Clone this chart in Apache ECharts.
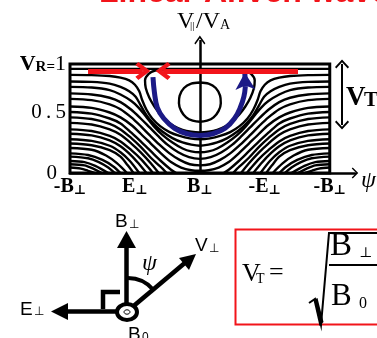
<!DOCTYPE html>
<html><head><meta charset="utf-8">
<script src="https://cdn.jsdelivr.net/npm/echarts/dist/echarts.min.js"></script>
<style>html,body{margin:0;padding:0;background:#fff}#c{width:377px;height:338px}</style>
</head><body><div id="c"></div><script>
// ---------- data (psi in degrees, v = V||/VA) ----------
const psiTicks = [-180, -90, 0, 90, 180];
const psiTickLabels = ['-B⊥', 'E⊥', 'B⊥', '-E⊥', '-B⊥'];
const vTicks = [0, 0.5, 1];
const vTickLabels = ['0', '0.5', 'VR=1'];

const topLine = [[-180, 0.955], [180, 0.955]];
// left halves (psi from -180 to 0); mirrored to the right half
const throughLines = [
  [[-180,.90],[-150,.898],[-125,.89],[-110,.875],[-98,.85],[-90,.81],[-84,.75],[-80,.67],[-74,.58],[-66,.50],[-55,.43],[-42,.375],[-28,.34],[-14,.318],[0,.31]],
  [[-180,.84],[-150,.836],[-125,.82],[-110,.79],[-98,.75],[-89,.70],[-82,.62],[-74,.53],[-64,.45],[-52,.38],[-38,.32],[-24,.28],[-12,.26],[0,.25]],
  [[-180,.79],[-150,.784],[-125,.76],[-110,.72],[-95,.66],[-85,.60],[-75,.52],[-64,.43],[-52,.35],[-38,.28],[-24,.225],[-12,.198],[0,.19]],
  [[-180,.73],[-150,.72],[-125,.69],[-110,.65],[-95,.58],[-82,.50],[-70,.42],[-58,.34],[-45,.26],[-30,.19],[-15,.145],[0,.13]],
  [[-180,.68],[-150,.668],[-125,.63],[-110,.585],[-95,.51],[-82,.43],[-70,.35],[-56,.26],[-42,.18],[-28,.12],[-14,.08],[0,.07]],
  [[-180,.61],[-150,.597],[-125,.555],[-110,.51],[-95,.44],[-82,.36],[-68,.27],[-54,.18],[-40,.10],[-26,.05],[-12,.025],[0,.02]]
];
const edgeLines = [
  [[-180,.56],[-150,.545],[-125,.50],[-110,.455],[-95,.37],[-82,.29],[-68,.20],[-54,.11],[-40,.03],[-33,0]],
  [[-180,.51],[-150,.495],[-125,.45],[-110,.40],[-95,.32],[-82,.24],[-68,.14],[-55,.06],[-46,0]],
  [[-180,.46],[-150,.445],[-125,.40],[-110,.35],[-95,.27],[-82,.19],[-68,.09],[-57,0]],
  [[-180,.40],[-150,.385],[-125,.34],[-110,.29],[-95,.21],[-82,.13],[-70,.04],[-65,0]],
  [[-180,.36],[-150,.345],[-125,.30],[-110,.245],[-95,.16],[-84,.08],[-74,0]],
  [[-180,.31],[-150,.295],[-125,.25],[-110,.19],[-97,.11],[-84,0]],
  [[-180,.27],[-150,.255],[-125,.21],[-110,.15],[-100,.07],[-92,0]],
  [[-180,.23],[-150,.213],[-130,.16],[-115,.09],[-101,0]],
  [[-180,.18],[-155,.165],[-135,.12],[-120,.06],[-110,0]],
  [[-180,.15],[-155,.135],[-140,.10],[-127,.05],[-118,0]],
  [[-180,.11],[-160,.10],[-145,.065],[-127,0]],
  [[-180,.08],[-160,.07],[-148,.04],[-136,0]],
  [[-180,.05],[-165,.04],[-155,.02],[-146,0]]
];
const separatrixHalf = [[0,.945],[-30,.945],[-50,.945],[-62,.94],[-71,.91],[-76,.85],[-75,.78],[-70,.69],[-63,.61],[-55,.54],[-46,.48],[-36,.43],[-24,.395],[-12,.378],[0,.372]];
const islandHalf = [[0,.83],[-12,.82],[-22,.78],[-28,.71],[-29,.64],[-26,.57],[-19,.51],[-10,.48],[0,.47]];
const blueArc = [[-65,.88],[-63,.74],[-59,.6],[-50,.5],[-35,.41],[-18,.36],[0,.345],[18,.36],[35,.41],[48,.5],[56,.6],[61,.7],[63,.79]];
const blueHead = [[63,.79],[62.3,.92]];
const redArrowRight = [[-155,.936],[-79,.936]];
const redArrowLeft = [[136,.936],[-51,.936]];
const vtArrow = [[197,1],[197,.44]];

// ---------- build ----------
const SERIF = '"Liberation Serif", "DejaVu Serif", serif';
const SANS = '"Liberation Sans", Arial, sans-serif';
const chev = 'path://M10,0 L20,12 L16.5,15 L10,7 L3.5,15 L0,12 Z';
const chevThin = 'path://M10,0 L20,10 L18.2,11.8 L10,3.6 L1.8,11.8 L0,10 Z';
const mirror = pts => pts.map(p => [-p[0], p[1]]);
const full = h => h.concat(mirror(h).reverse().slice(1));
function contour(pts) {
  return {type: 'line', data: pts, symbol: 'none', smooth: 0.3, silent: true, z: 3,
          lineStyle: {color: '#000', width: 2.4}};
}
function arrowSeries(pair, color, width, symbols, sizes, z) {
  return {type: 'line', data: [], silent: true, z: z,
    markLine: {silent: true, animation: false, symbol: symbols, symbolSize: sizes,
      label: {show: false}, lineStyle: {color: color, width: width, type: 'solid'},
      emphasis: {disabled: true},
      data: [[{coord: pair[0]}, {coord: pair[1]}]]}};
}
const series = [];
series.push(Object.assign(contour(topLine), {
  markArea: {silent: true, label: {show: false},
    itemStyle: {color: 'rgba(0,0,0,0)', borderColor: '#000', borderWidth: 3},
    data: [[{coord: [-180, 0]}, {coord: [180, 1]}]]}
}));
throughLines.forEach(h => series.push(contour(full(h))));
edgeLines.forEach(h => { series.push(contour(h)); series.push(contour(mirror(h))); });
series.push(contour(full(separatrixHalf)));
series.push(contour(full(islandHalf)));
series.push(arrowSeries([[0, 0], [0, 1.22]], '#000', 2.5, ['none', chevThin], [11, 9], 4));
series.push({type: 'line', data: blueArc, symbol: 'none', smooth: 0.4, silent: true, z: 6,
  lineStyle: {color: '#1c1a86', width: 5}});
series.push(arrowSeries(blueHead, '#1c1a86', 5, ['none', 'arrow'], [15, 17], 6));
series.push(arrowSeries(redArrowRight, '#f2141a', 5, ['none', chev], [18, 15], 7));
series.push(arrowSeries(redArrowLeft, '#f2141a', 5, ['none', chev], [18, 15], 7));
series.push(arrowSeries(vtArrow, '#000', 2, [chevThin, chevThin], [14, 9], 5));

function txt(x, y, text, font, color, z) {
  return {type: 'text', x: x, y: y, z: z || 10,
    style: {text: text, font: font, fill: color || '#000', textAlign: 'left', textVerticalAlign: 'middle'}};
}
const graphic = [
  {type: 'text', x: 99, y: 9, z: 10, style: {text: 'Linear Alfvén wave', font: 'bold 32px ' + SANS, fill: '#f2141a', textAlign: 'left', textVerticalAlign: 'bottom'}},
  txt(177, 22, 'V', '24px ' + SERIF), txt(190, 26, '||', '11px ' + SERIF), txt(196, 22, '/V', '24px ' + SERIF), txt(220, 25, 'A', '14px ' + SERIF),
  txt(361, 181, 'ψ', 'italic 24px ' + SERIF),
  txt(346, 98, 'V', 'bold 27px ' + SERIF), txt(364, 101, 'T', 'bold 21px ' + SERIF),
  // vector diagram
  {type: 'line', shape: {x1: 126.5, y1: 312, x2: 126.5, y2: 246}, style: {stroke: '#000', lineWidth: 4.5}},
  {type: 'polygon', shape: {points: [[126.5, 231], [117, 248], [136, 248]]}, style: {fill: '#000'}},
  {type: 'line', shape: {x1: 126, y1: 311.5, x2: 66, y2: 311.5}, style: {stroke: '#000', lineWidth: 4.5}},
  {type: 'polygon', shape: {points: [[51, 311.5], [68, 303], [68, 320]]}, style: {fill: '#000'}},
  {type: 'line', shape: {x1: 130, y1: 309, x2: 186, y2: 262}, style: {stroke: '#000', lineWidth: 4.5}},
  {type: 'polygon', shape: {points: [[196, 254], [189, 270], [179, 258]]}, style: {fill: '#000'}},
  {type: 'polyline', shape: {points: [[103, 309], [103, 292], [120, 292]]}, style: {stroke: '#000', lineWidth: 4.5, fill: null}},
  {type: 'arc', shape: {cx: 128, cy: 311, r: 33, startAngle: -Math.PI / 2, endAngle: -0.70, clockwise: true}, style: {stroke: '#000', lineWidth: 4, fill: null}},
  {type: 'ellipse', shape: {cx: 127, cy: 312, rx: 10, ry: 8}, style: {fill: '#fff', stroke: '#000', lineWidth: 4}, z: 11},
  {type: 'ellipse', shape: {cx: 127, cy: 312, rx: 3, ry: 2.2}, style: {fill: '#fff', stroke: '#000', lineWidth: 1}, z: 12},
  txt(115, 222, 'B', '19px ' + SANS), txt(129, 225, '⊥', '12px "DejaVu Sans"'),
  txt(20, 310, 'E', '19px ' + SANS), txt(34, 312, '⊥', '12px "DejaVu Sans"'),
  txt(195, 246, 'V', '19px ' + SANS), txt(209, 249, '⊥', '12px "DejaVu Sans"'),
  txt(128, 335, 'B', '19px ' + SANS), txt(142, 338, '0', '12px ' + SANS),
  txt(142, 264, 'ψ', 'italic 24px ' + SERIF),
  // formula box
  {type: 'rect', shape: {x: 235.5, y: 229.5, width: 160, height: 95}, style: {fill: null, stroke: '#f2141a', lineWidth: 2}},
  txt(242, 274, 'V', '26px ' + SERIF), txt(256, 279, 'T', '14px ' + SERIF),
  txt(269, 273, '=', '26px ' + SERIF),
  {type: 'polyline', shape: {points: [[309, 303], [315, 299], [321, 325], [329, 233], [380, 233]]}, style: {stroke: '#000', lineWidth: 2, fill: null}},
  {type: 'polygon', shape: {points: [[313.5, 300], [317.5, 298], [323.5, 322], [319.5, 326]]}, style: {fill: '#000'}},
  txt(330, 246, 'B', '33px ' + SERIF), txt(359, 253, '⊥', '14px "DejaVu Serif"'),
  {type: 'line', shape: {x1: 329, y1: 265, x2: 380, y2: 265}, style: {stroke: '#000', lineWidth: 2}},
  txt(331, 297, 'B', '31px ' + SERIF), txt(359, 304, '0', '16px ' + SERIF)
];

const option = {
  animation: false,
  grid: {left: 70, right: 22, top: 40, bottom: 165},
  xAxis: {type: 'value', min: -180, max: 215, interval: 90,
    axisLine: {show: true, onZero: false, symbol: ['none', chevThin], symbolSize: [11, 8], lineStyle: {color: '#000', width: 2.5}},
    axisTick: {show: false}, splitLine: {show: false},
    axisLabel: {margin: 4, showMaxLabel: false, showMinLabel: true,
      formatter: function (val) {
        const i = psiTicks.indexOf(val);
        if (i < 0) return '';
        const s = psiTickLabels[i];
        return '{b|' + s.slice(0, -1) + '}{p|' + s.slice(-1) + '}';
      },
      rich: {b: {fontFamily: SERIF, fontWeight: 'bold', fontSize: 20, color: '#000', verticalAlign: 'bottom'},
             p: {fontFamily: '"DejaVu Serif"', fontWeight: 'bold', fontSize: 13, color: '#000', verticalAlign: 'bottom'}}}},
  yAxis: {type: 'value', min: 0, max: 1.22, interval: 0.5,
    axisLine: {show: false}, axisTick: {show: false}, splitLine: {show: false},
    axisLabel: {margin: 4, showMaxLabel: false,
      formatter: function (val) {
        const i = vTicks.indexOf(val);
        if (i < 0) return '';
        if (i === 0) return '{z|0}';
        if (i === 1) return '{h|0\u2009.\u20095}';
        return '{vb|V}{rb|R=}{n|1}';
      },
      rich: {z: {fontFamily: SERIF, fontSize: 21, color: '#000', padding: [0, 9, 0, 0]},
             h: {fontFamily: SERIF, fontSize: 21, color: '#000', padding: [0, 0, 12, 0]},
             vb: {fontFamily: SERIF, fontWeight: 'bold', fontSize: 22, color: '#000', verticalAlign: 'bottom'},
             rb: {fontFamily: SERIF, fontWeight: 'bold', fontSize: 15, color: '#000', verticalAlign: 'bottom'},
             n: {fontFamily: SERIF, fontSize: 22, color: '#000', verticalAlign: 'bottom'}}}},
  series: series,
  graphic: graphic
};
const chart = echarts.init(document.getElementById('c'), null, {renderer: 'canvas'});
chart.setOption(option);
</script></body></html>
